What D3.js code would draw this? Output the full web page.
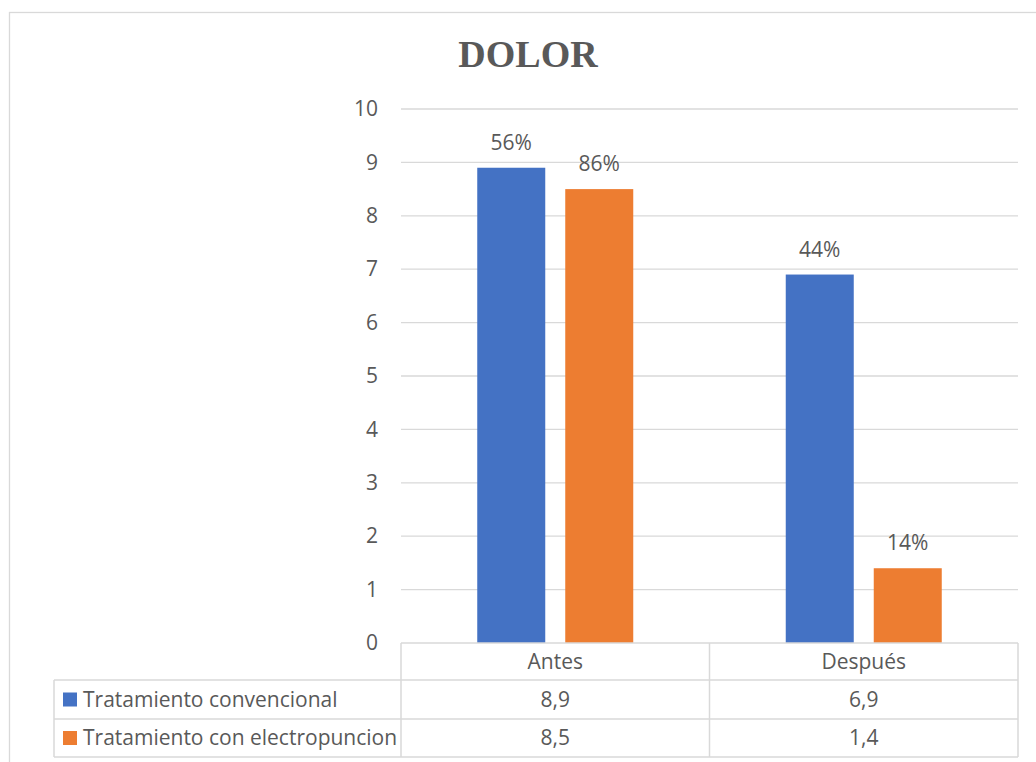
<!DOCTYPE html>
<html>
<head>
<meta charset="utf-8">
<script src="https://cdn.jsdelivr.net/npm/d3@7"></script>
<style>
  html, body { margin: 0; padding: 0; background: #fff; }
  svg { display: block; }
  text { font-family: "Open Sans", "Noto Sans", sans-serif; fill: #595959; }
</style>
</head>
<body>
<div id="chart"></div>
<script>
const categories = ['Antes', 'Después'];
const seriesNames = ['Tratamiento convencional', 'Tratamiento con electropuncion'];
const convencional = [8.9, 6.9];
const electropuncion = [8.5, 1.4];
const pctLabels = [['56%', '44%'], ['86%', '14%']];
const yTicks = [0, 1, 2, 3, 4, 5, 6, 7, 8, 9, 10];
const colors = ['#4472c4', '#ed7d31'];

const W = 1036, H = 762;
const plot = { left: 401, right: 1018, top: 109, bottom: 643 };
const rowH = [37, 39, 38];
const legendLeft = 54;
const fs = '21px';

const svg = d3.select('#chart').append('svg')
    .attr('width', W).attr('height', H);

// chart area border
svg.append('rect')
    .attr('x', 9.5).attr('y', 12.5)
    .attr('width', 1040).attr('height', 770)
    .attr('fill', 'none').attr('stroke', '#d9d9d9').attr('stroke-width', 1.3);

svg.append('text')
    .attr('x', 528).attr('y', 67)
    .attr('text-anchor', 'middle')
    .style('font-family', '"Liberation Serif", "Times New Roman", serif')
    .style('font-weight', 'bold').style('font-size', '38px')
    .text('DOLOR');

const y = d3.scaleLinear().domain([0, 10]).range([plot.bottom, plot.top]);
const x0 = d3.scaleBand().domain(categories).range([plot.left, plot.right]);

// gridlines
svg.append('g').selectAll('line').data(yTicks.filter(d => d > 0)).join('line')
    .attr('x1', plot.left).attr('x2', plot.right)
    .attr('y1', d => y(d)).attr('y2', d => y(d))
    .attr('stroke', '#d9d9d9').attr('stroke-width', 1.3);

const yAxis = svg.append('g')
    .attr('transform', `translate(${plot.left},0)`)
    .call(d3.axisLeft(y).tickValues(yTicks).tickSize(0).tickPadding(23));
yAxis.select('.domain').remove();
yAxis.selectAll('text')
    .style('font-family', '"Open Sans", "Noto Sans", sans-serif')
    .style('font-size', fs).attr('fill', '#595959');

const data = [convencional, electropuncion];
const groupW = 156;
categories.forEach((c, i) => {
    const cx = x0(c) + x0.bandwidth() / 2;
    const x1 = d3.scaleBand().domain(d3.range(data.length))
        .range([cx - groupW / 2, cx + groupW / 2]).paddingInner(20 / 88);
    const g = svg.append('g');
    g.selectAll('rect').data(data.map((s, j) => ({ j, v: s[i] }))).join('rect')
        .attr('x', d => x1(d.j)).attr('width', x1.bandwidth())
        .attr('y', d => y(d.v)).attr('height', d => y(0) - y(d.v))
        .attr('fill', d => colors[d.j]);
    g.selectAll('text').data(data.map((s, j) => ({ j, v: s[i] }))).join('text')
        .attr('x', d => x1(d.j) + x1.bandwidth() / 2)
        .attr('y', d => y(d.v) - 18)
        .attr('text-anchor', 'middle')
        .style('font-size', fs)
        .text(d => pctLabels[d.j][i]);
});

// data table
const tb = svg.append('g');
const lineStyle = s => s.attr('stroke', '#d9d9d9').attr('stroke-width', 1.5).attr('fill', 'none');
const r0 = plot.bottom, r1 = r0 + rowH[0], r2 = r1 + rowH[1], r3 = r2 + rowH[2];
// horizontal lines
tb.append('line').attr('x1', plot.left).attr('x2', plot.right).attr('y1', r0).attr('y2', r0).call(lineStyle);
[r1, r2, r3].forEach(r => tb.append('line')
    .attr('x1', legendLeft).attr('x2', plot.right).attr('y1', r).attr('y2', r).call(lineStyle));
// vertical lines
tb.append('line').attr('x1', legendLeft).attr('x2', legendLeft).attr('y1', r1).attr('y2', r3).call(lineStyle);
[plot.left, x0('Después'), plot.right].forEach(xv => tb.append('line')
    .attr('x1', xv).attr('x2', xv).attr('y1', r0).attr('y2', r3).call(lineStyle));

tb.selectAll('.cat').data(categories).join('text')
    .attr('x', d => x0(d) + x0.bandwidth() / 2)
    .attr('y', (r0 + r1) / 2).attr('dy', '0.35em')
    .attr('text-anchor', 'middle').style('font-size', fs)
    .text(d => d);

const rowsY = [(r1 + r2) / 2, (r2 + r3) / 2];
seriesNames.forEach((name, j) => {
    tb.append('rect').attr('x', 63).attr('y', rowsY[j] - 7)
        .attr('width', 14).attr('height', 14).attr('fill', colors[j]);
    tb.append('text').attr('x', 83).attr('y', rowsY[j]).attr('dy', '0.35em')
        .style('font-size', fs).text(name);
    categories.forEach((c, i) => {
        tb.append('text')
            .attr('x', x0(c) + x0.bandwidth() / 2)
            .attr('y', rowsY[j]).attr('dy', '0.35em')
            .attr('text-anchor', 'middle').style('font-size', fs)
            .text(d3.format('.1f')(data[j][i]).replace('.', ','));
    });
});
</script>
</body>
</html>
